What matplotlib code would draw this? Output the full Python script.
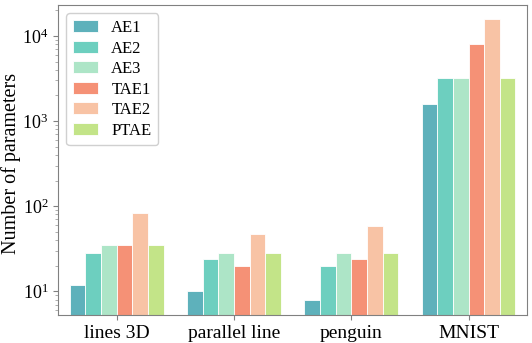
import matplotlib
matplotlib.use("Agg")
import matplotlib.pyplot as plt
import numpy as np

plt.rcParams['font.family'] = ['Liberation Serif', 'DejaVu Serif']
plt.rcParams['mathtext.fontset'] = 'stix'

datasets = ["lines 3D", "parallel line", "penguin", "MNIST"]
models = ["AE1", "AE2", "AE3", "TAE1", "TAE2", "PTAE"]

ae1 = [12, 10, 8, 1570]
ae2 = [28, 24, 20, 3170]
ae3 = [35, 28, 28, 3170]
tae1 = [35, 20, 24, 8000]
tae2 = [83, 47, 59, 15800]
ptae = [35, 28, 28, 3170]

colors = ['#5eb1bb', '#6dcfbf', '#ade5c7', '#f59176', '#f8c3a5', '#c3e488']

series = [ae1, ae2, ae3, tae1, tae2, ptae]

fig, ax = plt.subplots(figsize=(5.32, 3.43), dpi=100)
fig.subplots_adjust(left=0.109, right=0.991, top=0.985, bottom=0.082)

x = np.arange(len(datasets))
width = 0.8 / len(models)
for i, (vals, name) in enumerate(zip(series, models)):
    ax.bar(x + (i - 2.5) * width, vals, width=width, color=colors[i],
           edgecolor='white', linewidth=0.6, label=name)

ax.set_yscale('log')
ax.set_ylim(5.3, 23000)
ax.set_xlim(-0.5, 3.5)
ax.set_xticks(x)
ax.set_xticklabels(datasets, fontsize=14)
ax.tick_params(axis='y', labelsize=13)
ax.set_ylabel("Number of parameters", fontsize=14.5)
ax.yaxis.set_label_coords(-0.078, 0.49)

for s in ax.spines.values():
    s.set_color('#808080')
ax.tick_params(colors='#808080', labelcolor='black')
ax.tick_params(which='minor', colors='#a0a0a0')

ax.legend(loc='upper left', fontsize=12, handlelength=1.5,
          labelspacing=0.27, borderpad=0.4, framealpha=1,
          edgecolor='#d0d0d0')

plt.savefig("out.png", dpi=100)
